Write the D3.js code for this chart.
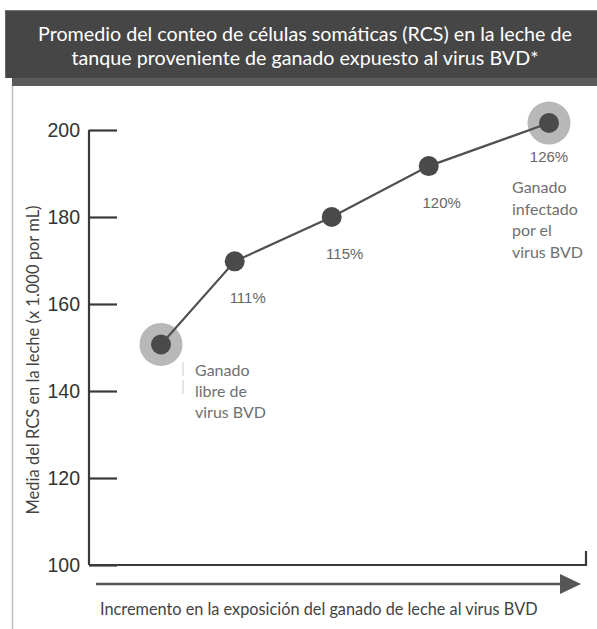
<!DOCTYPE html>
<html>
<head>
<meta charset="utf-8">
<title>RCS BVD</title>
<script src="https://cdn.jsdelivr.net/npm/d3@7"></script>
<style>
  body { margin: 0; background: #fff; }
  .axis text { font-family: "Liberation Sans", Arial, sans-serif; font-size: 19.5px; fill: #333; }
  .axis path, .axis line { stroke: #3a3a3a; stroke-width: 2.2; }
  .note { font-family: Lato, "Open Sans", sans-serif; fill: #707070; font-size: 16px; }
  .pct { font-family: "Liberation Sans", Arial, sans-serif; fill: #666; font-size: 15px; }
</style>
</head>
<body>
<script>
// data
var titleLines = ["Promedio del conteo de células somáticas (RCS) en la leche de",
                  "tanque proveniente de ganado expuesto al virus BVD*"];
var exposure = [0, 0.19, 0.44, 0.69, 1];          // relative position along the exposure arrow
var rcs = [150.7, 169.8, 180, 191.7, 201.6];       // mean SCC (x 1.000 / mL)
var pctLabels = ["", "111%", "115%", "120%", "126%"];
var yTicks = [100, 120, 140, 160, 180, 200];
var yTitle = "Media del RCS en la leche (x 1.000 por mL)";
var xTitle = "Incremento en la exposición del ganado de leche al virus BVD";
var noteFree = ["Ganado", "libre de", "virus BVD"];
var noteInfected = ["Ganado", "infectado", "por el", "virus BVD"];

var W = 597, H = 629;
var svg = d3.select("body").append("svg").attr("width", W).attr("height", H);

// frame line on the left
svg.append("line").attr("x1", 12.5).attr("x2", 12.5).attr("y1", 84).attr("y2", H)
  .attr("stroke", "#bdbdbd").attr("stroke-width", 1.5);

// title box
svg.append("rect").attr("x", 12).attr("y", 20).attr("width", W).attr("height", 66).attr("fill", "#5a5a5a");
svg.append("rect").attr("x", 5).attr("y", 10).attr("width", W).attr("height", 68).attr("fill", "#464646");
svg.append("line").attr("x1", 5).attr("x2", W).attr("y1", 10.5).attr("y2", 10.5).attr("stroke", "#777");
svg.append("line").attr("x1", 5.5).attr("x2", 5.5).attr("y1", 10).attr("y2", 78).attr("stroke", "#666");
svg.selectAll(".title").data(titleLines).enter().append("text")
  .attr("class", "title")
  .attr("x", 305).attr("y", (d, i) => 41 + i * 24)
  .attr("text-anchor", "middle")
  .attr("font-family", "Lato, 'Open Sans', sans-serif")
  .attr("font-size", 19.7)
  .attr("fill", "#fff")
  .text(d => d);

var x = d3.scaleLinear().domain([0, 1]).range([161, 549]);
var y = d3.scaleLinear().domain([100, 200]).range([565, 130]);

// y axis, ticks pointing inward
var yAxis = svg.append("g").attr("class", "axis").attr("transform", "translate(89,0)")
  .call(d3.axisLeft(y).tickValues(yTicks).tickSize(-28).tickSizeOuter(0).tickPadding(9));
yAxis.select(".domain").attr("d", "M0," + y(200) + "V" + y(100));

// baseline with small end cap
svg.append("path")
  .attr("d", "M89," + y(100) + "H586V" + (y(100) - 14))
  .attr("fill", "none").attr("stroke", "#3a3a3a").attr("stroke-width", 2.2);

// exposure arrow
svg.append("line").attr("x1", 96).attr("x2", 563).attr("y1", 584).attr("y2", 584)
  .attr("stroke", "#555").attr("stroke-width", 2.5);
svg.append("path").attr("d", "M560,574L581,584L560,594Z").attr("fill", "#555");

svg.append("text").attr("x", 100).attr("y", 615)
  .attr("font-family", "Lato, 'Open Sans', sans-serif").attr("font-size", 16.3).attr("fill", "#444")
  .text(xTitle);

svg.append("text")
  .attr("transform", "translate(39,360) rotate(-90)")
  .attr("text-anchor", "middle")
  .attr("font-family", "Lato, 'Open Sans', sans-serif").attr("font-size", 16.5).attr("fill", "#444")
  .text(yTitle);

var pts = exposure.map((e, i) => ({ e: e, v: rcs[i], lab: pctLabels[i] }));

// light guide by the first note
svg.append("line").attr("x1", 183).attr("x2", 183).attr("y1", 362).attr("y2", 396)
  .attr("stroke", "#ddd").attr("stroke-width", 1.5).attr("stroke-dasharray", "14,4");

// halos on ends
svg.selectAll(".halo").data([pts[0], pts[pts.length - 1]]).enter().append("circle")
  .attr("cx", d => x(d.e)).attr("cy", d => y(d.v)).attr("r", 21.5).attr("fill", "#b8b8b8");

svg.append("path").datum(pts)
  .attr("d", d3.line().x(d => x(d.e)).y(d => y(d.v)))
  .attr("fill", "none").attr("stroke", "#505050").attr("stroke-width", 2.2);

svg.selectAll(".dot").data(pts).enter().append("circle")
  .attr("cx", d => x(d.e)).attr("cy", d => y(d.v)).attr("r", 10).attr("fill", "#4a4a4a");

svg.selectAll(".pct").data(pts.filter(d => d.lab)).enter().append("text")
  .attr("class", "pct")
  .attr("x", (d, i) => x(d.e) + (i == 3 ? 0 : 13))
  .attr("y", (d, i) => y(d.v) + (i == 3 ? 39 : 42))
  .attr("text-anchor", "middle")
  .text(d => d.lab);

svg.selectAll(".nf").data(noteFree).enter().append("text").attr("class", "note")
  .attr("x", 195).attr("y", (d, i) => 376 + i * 21).text(d => d);
svg.selectAll(".ni").data(noteInfected).enter().append("text").attr("class", "note")
  .attr("x", 512).attr("y", (d, i) => 193 + i * 21.7).text(d => d);
</script>
</body>
</html>
